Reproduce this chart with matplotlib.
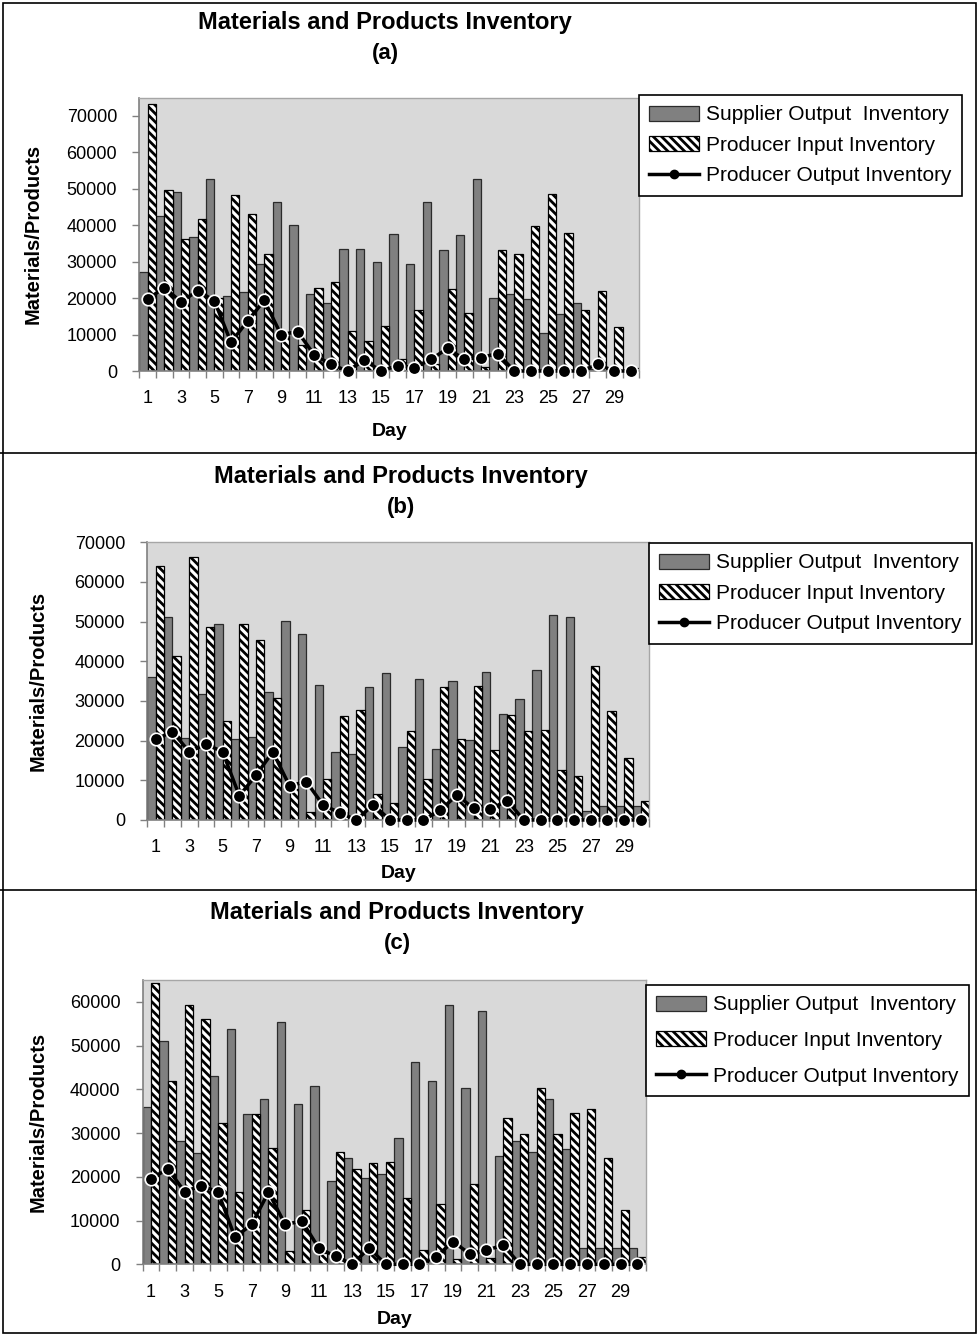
import matplotlib.pyplot as plt
from matplotlib.patches import Patch, Rectangle
from matplotlib.lines import Line2D

plt.rcParams['font.family'] = ['Liberation Sans', 'DejaVu Sans']
plt.rcParams['hatch.linewidth'] = 2.0

days = list(range(1, 31))
day_labels = [str(d) for d in days[::2]]

# (a)
supplier_a = [27200, 42400, 49200, 36700, 52800, 20700, 21700, 29300, 46400, 40000,
              21000, 18600, 33500, 33500, 29800, 37500, 29500, 46300, 33300, 37200,
              52800, 20000, 21000, 19700, 10300, 15600, 18600, 500, 0, 0]
prod_in_a = [73400, 49700, 36100, 41600, 20000, 48300, 43100, 32000, 9500, 7000,
             22900, 24400, 11100, 8200, 12300, 3200, 16700, 2000, 22600, 15800,
             1100, 33100, 32200, 39800, 48700, 38000, 16700, 22000, 12200, 800]
prod_out_a = [19700, 22900, 19000, 22000, 19300, 7900, 13700, 19400, 10000, 10800,
              4400, 1800, 0, 3000, 0, 1500, 900, 3200, 6200, 3200,
              3700, 4800, 0, 0, 0, 0, 0, 1800, 0, 0]

# (b)
supplier_b = [36100, 51200, 20600, 31800, 49400, 20400, 20800, 32300, 50200, 46800,
              34100, 17100, 16600, 33600, 37000, 18300, 35500, 17800, 35000, 20200,
              37400, 26600, 30500, 37900, 51600, 51100, 2300, 3500, 3500, 3500]
prod_in_b = [64000, 41300, 66200, 48700, 25000, 49400, 45400, 30800, 7800, 2100,
             10300, 26300, 27700, 6500, 4200, 22400, 10400, 33400, 20500, 33900,
             17700, 26400, 22500, 22800, 12500, 11200, 38900, 27400, 15700, 4800]
prod_out_b = [20300, 22300, 17200, 19100, 17200, 6100, 11300, 17200, 8600, 9700,
              3800, 1800, 0, 3900, 0, 0, 0, 2400, 6300, 2900,
              2700, 4900, 0, 0, 0, 0, 0, 0, 0, 0]

# (c)
supplier_c = [36000, 51000, 28100, 25400, 43100, 53800, 34400, 37700, 55300, 36600,
              40700, 19000, 24200, 19800, 20600, 28800, 46300, 41900, 59300, 40200,
              58000, 24700, 28100, 25600, 37700, 26400, 3700, 3700, 3700, 3700]
prod_in_c = [64400, 41800, 59300, 56100, 32400, 16500, 34300, 26700, 3000, 12500,
             2500, 25600, 21900, 23200, 23500, 15100, 3200, 13700, 1100, 18400,
             1400, 33500, 29700, 40200, 29700, 34700, 35600, 24200, 12500, 1700]
prod_out_c = [19600, 21800, 16600, 18000, 16500, 6200, 9100, 16500, 9100, 9900,
              3700, 1800, 0, 3700, 0, 0, 0, 1700, 5200, 2400,
              3200, 4400, 0, 0, 0, 0, 0, 0, 0, 0]

W, H = 978, 1335
fig = plt.figure(figsize=(W / 100, H / 100), dpi=100)
fig.patch.set_facecolor('white')


def fx(x):
    return x / W


def fy(y):
    return 1 - y / H


def draw_panel(box, supplier, prod_in, prod_out, ymax, ytop, letter,
               title_x, title_y, ylabel_x, day_y, legend_xy, legend_gap):
    left, top, right, bottom = box
    ax = fig.add_axes([fx(left), fy(bottom), fx(right - left), (bottom - top) / H])
    ax.set_facecolor('#d9d9d9')

    xs = days
    ax.bar([x - 0.25 for x in xs], supplier, width=0.5, color='#808080',
           edgecolor='#2b2b2b', linewidth=0.9, zorder=2)
    ax.bar([x + 0.25 for x in xs], prod_in, width=0.5, color='white',
           edgecolor='black', hatch='\\\\\\\\', linewidth=0.9, zorder=2)
    ax.plot(xs, prod_out, color='black', lw=2.5, marker='o', ms=9,
            markerfacecolor='black', markeredgecolor='white', markeredgewidth=1.2,
            zorder=3, clip_on=False)

    ax.set_xlim(0.5, 30.5)
    ax.set_ylim(0, ymax)
    ax.set_yticks(range(0, ytop + 1, 10000))
    ax.set_xticks(days[::2])
    ax.set_xticklabels(day_labels)
    ax.set_xticks([x + 0.5 for x in range(0, 31)], minor=True)
    ax.tick_params(axis='x', which='major', length=0, pad=14, labelsize=13)
    ax.tick_params(axis='x', which='minor', length=5, width=1, color='#808080')
    ax.tick_params(axis='y', length=5, width=1, color='#808080', pad=11, labelsize=13)

    for side in ('left', 'bottom'):
        ax.spines[side].set_color('#808080')
        ax.spines[side].set_linewidth(1.2)
    for side in ('top', 'right'):
        ax.spines[side].set_color('#a6a6a6')
        ax.spines[side].set_linewidth(1.0)

    fig.text(fx(title_x), fy(title_y), 'Materials and Products Inventory',
             ha='center', va='center', fontsize=17, fontweight='bold')
    fig.text(fx(title_x), fy(title_y + 31), '(%s)' % letter,
             ha='center', va='center', fontsize=16, fontweight='bold')
    fig.text(fx(ylabel_x), fy((top + bottom) / 2), 'Materials/Products',
             ha='center', va='center', rotation=90, fontsize=14.5, fontweight='bold')
    fig.text(fx((left + right) / 2), fy(day_y), 'Day',
             ha='center', va='center', fontsize=14, fontweight='bold')

    handles = [
        Patch(facecolor='#808080', edgecolor='#2b2b2b', linewidth=0.9),
        Patch(facecolor='white', edgecolor='black', hatch='\\\\\\\\', linewidth=0.9),
        Line2D([], [], color='black', lw=2.5, marker='o', ms=6,
               markerfacecolor='black', markeredgecolor='black'),
    ]
    labels = ['Supplier Output  Inventory', 'Producer Input Inventory',
              'Producer Output Inventory']
    leg = ax.legend(handles, labels, loc='upper left',
                    bbox_to_anchor=(fx(legend_xy[0]), fy(legend_xy[1])),
                    bbox_transform=fig.transFigure, borderaxespad=0,
                    fancybox=False, framealpha=1, edgecolor='black',
                    fontsize=15, handlelength=2.4, handleheight=0.75,
                    handletextpad=0.3, labelspacing=legend_gap, borderpad=0.5)
    leg.get_frame().set_linewidth(1.2)
    leg.set_zorder(5)
    return ax


draw_panel((139.3, 97.7, 639.3, 371.0), supplier_a, prod_in_a, prod_out_a,
           75000, 70000, 'a', 385, 22, 33, 432, (639, 95), 0.55)
draw_panel((147.3, 542.3, 649.3, 820.0), supplier_b, prod_in_b, prod_out_b,
           70000, 70000, 'b', 401, 477, 38, 874, (649, 543), 0.55)
draw_panel((142.7, 980.0, 645.7, 1264.3), supplier_c, prod_in_c, prod_out_c,
           65000, 60000, 'c', 397, 913, 38, 1320, (646, 985), 0.8)

# frames around the three panels
for y in (453, 890):
    fig.add_artist(Line2D([0, 1], [fy(y), fy(y)], transform=fig.transFigure,
                          color='black', lw=1.2))
fig.add_artist(Rectangle((fx(3), fy(1333)), fx(973), (1333 - 3) / H,
                         transform=fig.transFigure, fill=False,
                         edgecolor='black', lw=1.2))

fig.savefig('out.png', dpi=100)
